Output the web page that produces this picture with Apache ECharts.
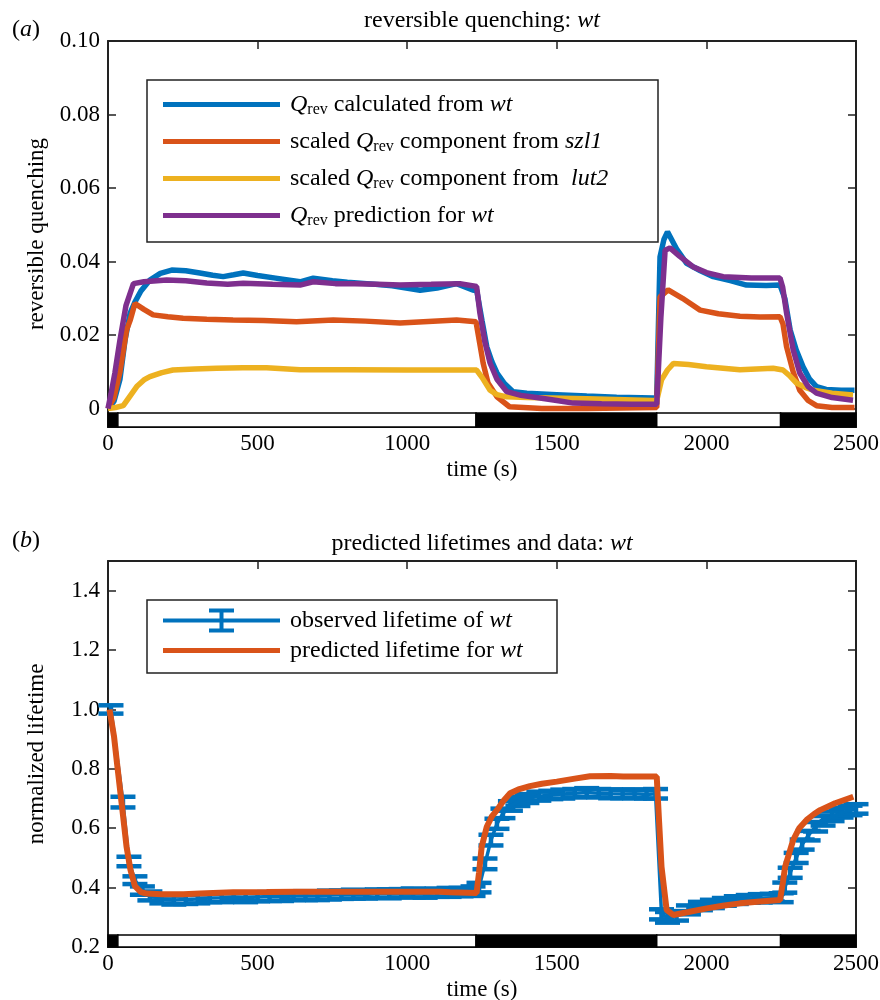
<!DOCTYPE html>
<html>
<head>
<meta charset="utf-8">
<script src="https://cdn.jsdelivr.net/npm/echarts@6/dist/echarts.min.js"></script>
<style>
  html, body { margin: 0; padding: 0; background: #fff; }
  #chart { width: 880px; height: 1000px; }
</style>
</head>
<body>
<div id="chart"></div>
<script>
// ---------- data ----------
// light/dark bars (time in s), 1 = dark
const phaseStart = [0, 33, 1230, 1834, 2248];
const phaseEnd = [33, 1230, 1834, 2248, 2500];
const phaseDark = [1, 0, 1, 0, 1];

// (a) reversible quenching
const qCalcT = [0, 20, 40, 57, 74, 90, 110, 140, 175, 213, 260, 307, 350, 385, 420, 452, 500, 560, 642, 686, 750, 800, 865, 950, 1043, 1100, 1165, 1221,
  1232, 1250, 1266, 1283, 1300, 1325, 1354, 1400, 1500, 1600, 1700, 1822,
  1834, 1845, 1858, 1870, 1900, 1934, 1980, 2023, 2080, 2134, 2200, 2246,
  2262, 2280, 2300, 2323, 2345, 2368, 2400, 2450, 2495];
const qCalcV = [0, 0.002, 0.008, 0.0187, 0.026, 0.029, 0.032, 0.035, 0.0368, 0.0377, 0.0375, 0.0369, 0.0363, 0.0359, 0.0364, 0.0369, 0.0362, 0.0355, 0.0345, 0.0355, 0.0348, 0.0344, 0.034, 0.0334, 0.0322, 0.0328, 0.034, 0.0322,
  0.0323, 0.024, 0.0168, 0.0128, 0.0097, 0.0068, 0.0046, 0.0042, 0.0038, 0.0034, 0.0031, 0.0029,
  0.003, 0.0413, 0.046, 0.0481, 0.0435, 0.0395, 0.0375, 0.0359, 0.0348, 0.0336, 0.0335, 0.0336,
  0.030, 0.0214, 0.016, 0.0114, 0.008, 0.006, 0.0052, 0.005, 0.005];

const szl1T = [0, 20, 40, 62, 74, 90, 120, 151, 200, 251, 330, 418, 520, 630, 753, 860, 976, 1070, 1165, 1230,
  1242, 1254, 1270, 1300, 1342, 1450, 1600, 1834,
  1845, 1872, 1920, 1979, 2040, 2112, 2180, 2246,
  2256, 2268, 2290, 2312, 2340, 2368, 2420, 2495];
const szl1V = [0, 0.003, 0.010, 0.0214, 0.024, 0.0286, 0.027, 0.0255, 0.025, 0.0246, 0.0243, 0.0241, 0.024, 0.0236, 0.0241, 0.0238, 0.0233, 0.0237, 0.0241, 0.0236,
  0.018, 0.0123, 0.007, 0.0032, 0.0005, 0.0, 0.0, 0.0003,
  0.0304, 0.0323, 0.030, 0.0268, 0.0258, 0.0251, 0.0249, 0.025,
  0.023, 0.0168, 0.010, 0.005, 0.0022, 0.0008, 0.0003, 0.0003];

const lut2T = [0, 25, 51, 70, 96, 120, 140, 180, 217, 290, 363, 450, 530, 642, 800, 1000, 1232,
  1250, 1277, 1300, 1333, 1400, 1600, 1822,
  1834, 1850, 1870, 1890, 1940, 2000, 2112, 2223, 2256,
  2280, 2302, 2330, 2357, 2420, 2490];
const lut2V = [0, 0.0003, 0.0008, 0.003, 0.006, 0.0078, 0.0087, 0.0098, 0.0105, 0.0108, 0.011, 0.0111, 0.0111, 0.0106, 0.0106, 0.0105, 0.0105,
  0.0085, 0.005, 0.0038, 0.0032, 0.003, 0.0027, 0.0022,
  0.0022, 0.0078, 0.0105, 0.0123, 0.012, 0.0114, 0.0106, 0.011, 0.0105,
  0.0088, 0.0069, 0.0058, 0.005, 0.0042, 0.0037];

const predT = [0, 10, 23, 40, 60, 85, 120, 196, 260, 330, 400, 452, 550, 642, 686, 760, 825, 900, 976, 1080, 1176, 1232,
  1243, 1260, 1277, 1300, 1333, 1380, 1444, 1500, 1555, 1650, 1750, 1834,
  1848, 1862, 1878, 1910, 1955, 2000, 2056, 2150, 2246,
  2255, 2268, 2290, 2312, 2340, 2368, 2420, 2490];
const predV = [0, 0.004, 0.0097, 0.0187, 0.028, 0.034, 0.0345, 0.035, 0.0348, 0.0342, 0.0338, 0.0341, 0.0338, 0.0336, 0.0345, 0.034, 0.034, 0.0338, 0.0336, 0.0338, 0.034, 0.0332,
  0.026, 0.018, 0.0124, 0.008, 0.0046, 0.0036, 0.0029, 0.0022, 0.0015, 0.0013, 0.0012, 0.0012,
  0.025, 0.0431, 0.0437, 0.0415, 0.0386, 0.037, 0.0359, 0.0355, 0.0355,
  0.033, 0.026, 0.016, 0.0097, 0.006, 0.0042, 0.003, 0.0023];

// (b) lifetimes
const lifePredT = [5, 20, 30, 50, 62, 75, 90, 110, 129, 180, 252, 307, 418, 530, 630, 753, 900, 1000, 1110, 1143, 1232,
  1240, 1249, 1266, 1283, 1300, 1320, 1344, 1375, 1410, 1450, 1500, 1560, 1611, 1680, 1722, 1834,
  1842, 1850, 1867, 1889, 1940, 2001, 2060, 2112, 2180, 2246,
  2256, 2263, 2290, 2310, 2335, 2360, 2380, 2430, 2491];
const lifePredV = [1.0, 0.91, 0.82, 0.645, 0.538, 0.46, 0.405, 0.385, 0.38, 0.378, 0.378, 0.38, 0.384, 0.385, 0.386, 0.386, 0.386, 0.386, 0.386, 0.384, 0.382,
  0.45, 0.538, 0.605, 0.64, 0.661, 0.69, 0.718, 0.732, 0.742, 0.75, 0.757, 0.767, 0.775, 0.776, 0.774, 0.774,
  0.62, 0.47, 0.325, 0.308, 0.318, 0.33, 0.34, 0.347, 0.353, 0.358,
  0.42, 0.47, 0.56, 0.60, 0.628, 0.648, 0.661, 0.684, 0.706];

const obsT = [10, 50, 70, 90, 115, 140, 180, 220, 260, 300, 340, 380, 420, 460, 500, 540, 580, 620, 660, 700, 740, 780, 820, 860, 900, 940, 980, 1020, 1060, 1100, 1140, 1180, 1220,
  1240, 1260, 1280, 1300, 1320, 1345, 1370, 1400, 1440, 1480, 1520, 1560, 1600, 1640, 1680, 1720, 1760, 1800, 1830,
  1850, 1870, 1900, 1940, 1980, 2020, 2060, 2100, 2140, 2180, 2220, 2250,
  2262, 2280, 2300, 2320, 2340, 2365, 2390, 2420, 2450, 2480, 2500];
const obsV = [1.0, 0.688, 0.488, 0.425, 0.39, 0.372, 0.362, 0.358, 0.36, 0.362, 0.365, 0.366, 0.368, 0.366, 0.368, 0.37, 0.369, 0.372, 0.373, 0.372, 0.375, 0.376, 0.378, 0.377, 0.38, 0.379, 0.381, 0.382, 0.38, 0.383, 0.384, 0.385, 0.388,
  0.40, 0.48, 0.56, 0.615, 0.65, 0.675, 0.69, 0.70, 0.708, 0.712, 0.715, 0.718, 0.72, 0.718, 0.716, 0.715, 0.716, 0.714, 0.716,
  0.31, 0.30, 0.305, 0.325, 0.338, 0.345, 0.352, 0.358, 0.362, 0.364, 0.366, 0.366,
  0.40, 0.45, 0.50, 0.545, 0.575, 0.605, 0.625, 0.64, 0.652, 0.66, 0.665];
const obsErr = [0.014, 0.018, 0.016, 0.013, 0.014, 0.015, 0.015, 0.015, 0.015, 0.015, 0.014, 0.015, 0.014, 0.015, 0.014, 0.015, 0.014, 0.014, 0.015, 0.014, 0.015, 0.014, 0.015, 0.014, 0.014, 0.015, 0.014, 0.015, 0.014, 0.014, 0.015, 0.014, 0.016,
  0.016, 0.018, 0.018, 0.017, 0.016, 0.016, 0.015, 0.015, 0.015, 0.014, 0.015, 0.014, 0.015, 0.014, 0.015, 0.014, 0.015, 0.014, 0.016,
  0.017, 0.018, 0.016, 0.015, 0.014, 0.014, 0.013, 0.013, 0.013, 0.014, 0.013, 0.015,
  0.017, 0.017, 0.017, 0.017, 0.016, 0.016, 0.016, 0.016, 0.016, 0.016, 0.016];

const qTicks = [0, 0.02, 0.04, 0.06, 0.08, 0.1];
const lifeTicks = [0.2, 0.4, 0.6, 0.8, 1.0, 1.2, 1.4];

// ---------- styling ----------
const FONT = 'Liberation Serif';
const BLUE = '#0072BD', ORANGE = '#D95319', YELLOW = '#EDB120', PURPLE = '#7E2F8E';
const AX = '#222';
const FS = 23;   // tick labels / axis names
const FL = 24;   // legend and titles

const zip = (xs, ys) => xs.map((x, i) => [x, ys[i]]);
const rich = {
  i: { fontFamily: FONT, fontSize: FL, fontStyle: 'italic', color: '#000', lineHeight: 27 },
  q: { fontFamily: FONT, fontSize: FL, fontStyle: 'italic', color: '#000', lineHeight: 27 },
  s: { fontFamily: FONT, fontSize: 16, color: '#000', lineHeight: 14, verticalAlign: 'bottom' }
};
const textBase = { fontFamily: FONT, fontSize: FS, color: '#000' };
const textBig = { fontFamily: FONT, fontSize: FL, color: '#000' };

const legendText = {
  'Qrev calculated from wt': '{q|Q}{s|rev} calculated from {i|wt}',
  'scaled Qrev component from szl1': 'scaled {q|Q}{s|rev} component from {i|szl1}',
  'scaled Qrev component from lut2': 'scaled {q|Q}{s|rev} component from  {i|lut2}',
  'Qrev prediction for wt': '{q|Q}{s|rev} prediction for {i|wt}',
  'observed lifetime of wt': 'observed lifetime of {i|wt}',
  'predicted lifetime for wt': 'predicted lifetime for {i|wt}'
};

function phaseRenderer(yLow, yHigh) {
  return function (params, api) {
    const p0 = api.coord([api.value(0), yHigh]);
    const p1 = api.coord([api.value(1), yLow]);
    return {
      type: 'rect',
      shape: { x: p0[0], y: p0[1], width: p1[0] - p0[0], height: p1[1] - p0[1] },
      style: { fill: api.value(2) ? '#000' : '#fff', stroke: '#000', lineWidth: 1.5 }
    };
  };
}

function renderErrorBar(params, api) {
  const t = api.value(0), v = api.value(1), e = api.value(2);
  const hi = api.coord([t, v + e]);
  const lo = api.coord([t, v - e]);
  const half = 12.5;
  const style = { stroke: BLUE, lineWidth: 4.5, fill: null };
  return {
    type: 'group',
    children: [
      { type: 'line', shape: { x1: hi[0], y1: hi[1], x2: lo[0], y2: lo[1] }, style },
      { type: 'line', shape: { x1: hi[0] - half, y1: hi[1], x2: hi[0] + half, y2: hi[1] }, style },
      { type: 'line', shape: { x1: lo[0] - half, y1: lo[1], x2: lo[0] + half, y2: lo[1] }, style }
    ]
  };
}

const phaseData = phaseStart.map((s, i) => [s, phaseEnd[i], phaseDark[i]]);
const obsData = obsT.map((t, i) => [t, obsV[i], obsErr[i]]);

function xAxes(grid) {
  const common = {
    gridIndex: grid, type: 'value', min: 0, max: 2500, interval: 500,
    axisLine: { onZero: false, lineStyle: { color: AX, width: 2 } },
    axisTick: { inside: true, length: 8, lineStyle: { color: AX, width: 1.5 } },
    splitLine: { show: false }
  };
  return [
    Object.assign({}, common, {
      position: 'bottom',
      axisLabel: Object.assign({ margin: 5, formatter: v => String(v) }, textBase),
      name: 'time (s)', nameLocation: 'middle', nameGap: 31, nameTextStyle: textBase
    }),
    Object.assign({}, common, { position: 'top', axisLabel: { show: false } })
  ];
}

function yAxes(grid, min, max, ticks, fmt, name, gap) {
  const common = {
    gridIndex: grid, type: 'value', min: min, max: max,
    axisLine: { onZero: false, lineStyle: { color: AX, width: 2 } },
    axisTick: { inside: true, length: 8, customValues: ticks, lineStyle: { color: AX, width: 1.5 } },
    splitLine: { show: false }
  };
  return [
    Object.assign({}, common, {
      position: 'left',
      axisLabel: Object.assign({ margin: 8, customValues: ticks, formatter: fmt }, textBase),
      name: name, nameLocation: 'middle', nameRotate: 90, nameGap: gap, nameTextStyle: textBase
    }),
    Object.assign({}, common, { position: 'right', axisLabel: { show: false } })
  ];
}

const lineSeries = (name, xi, yi, data, color, width) => ({
  name, type: 'line', xAxisIndex: xi, yAxisIndex: yi, data, symbol: 'none',
  lineStyle: { color, width }, itemStyle: { color }, animation: false
});

const ICON_LINE = 'path://M0,0H117V5H0Z';
const ICON_ERR = 'path://M0,10H117V14H0Z M56.5,0H60.5V24H56.5Z M46,0H71V4H46Z M46,20H71V24H46Z';

const chart = echarts.init(document.getElementById('chart'));
chart.setOption({
  backgroundColor: '#fff',
  animation: false,
  title: [
    { text: 'reversible quenching: {i|wt}', left: 482, top: 7, textAlign: 'center', padding: 0,
      textStyle: Object.assign({ fontWeight: 'normal', rich }, textBig) },
    { text: 'predicted lifetimes and data: {i|wt}', left: 482, top: 530, textAlign: 'center', padding: 0,
      textStyle: Object.assign({ fontWeight: 'normal', rich }, textBig) },
    { text: '({i|a})', left: 12, top: 16, padding: 0, textStyle: Object.assign({ fontWeight: 'normal', rich }, textBig) },
    { text: '({i|b})', left: 12, top: 527, padding: 0, textStyle: Object.assign({ fontWeight: 'normal', rich }, textBig) }
  ],
  grid: [
    { left: 108, right: 24, top: 41, height: 386, outerBoundsMode: 'none' },
    { left: 108, right: 24, top: 561, height: 386, outerBoundsMode: 'none' }
  ],
  xAxis: xAxes(0).concat(xAxes(1)),
  yAxis: yAxes(0, -0.005, 0.1, qTicks, v => (v === 0 ? '0' : v.toFixed(2)), 'reversible quenching', 56)
    .concat(yAxes(1, 0.2, 1.5, lifeTicks, v => v.toFixed(1), 'normalized lifetime', 60)),
  legend: [
    {
      orient: 'vertical', left: 163, top: 91, padding: 0, itemGap: 10,
      itemWidth: 117, itemHeight: 5, selectedMode: false,
      data: [
        { name: 'Qrev calculated from wt', icon: ICON_LINE },
        { name: 'scaled Qrev component from szl1', icon: ICON_LINE },
        { name: 'scaled Qrev component from lut2', icon: ICON_LINE },
        { name: 'Qrev prediction for wt', icon: ICON_LINE }
      ],
      formatter: n => legendText[n],
      textStyle: Object.assign({ rich, lineHeight: 27, padding: [0, 0, 0, 5] }, textBig)
    },
    {
      orient: 'vertical', left: 163, top: 607, padding: 0, itemGap: 3,
      itemWidth: 117, itemHeight: 24, selectedMode: false,
      data: [
        { name: 'observed lifetime of wt', icon: ICON_ERR },
        { name: 'predicted lifetime for wt', icon: ICON_LINE }
      ],
      formatter: n => legendText[n],
      textStyle: Object.assign({ rich, lineHeight: 27, padding: [0, 0, 0, 5] }, textBig)
    }
  ],
  graphic: [
    { type: 'rect', shape: { x: 147, y: 80, width: 511, height: 162 }, style: { fill: null, stroke: AX, lineWidth: 1.5 }, z: 100 },
    { type: 'rect', shape: { x: 147, y: 600, width: 410, height: 73 }, style: { fill: null, stroke: AX, lineWidth: 1.5 }, z: 100 }
  ],
  series: [
    lineSeries('Qrev calculated from wt', 0, 0, zip(qCalcT, qCalcV), BLUE, 5.5),
    lineSeries('scaled Qrev component from szl1', 0, 0, zip(szl1T, szl1V), ORANGE, 5.5),
    lineSeries('scaled Qrev component from lut2', 0, 0, zip(lut2T, lut2V), YELLOW, 5.5),
    lineSeries('Qrev prediction for wt', 0, 0, zip(predT, predV), PURPLE, 5.5),
    { type: 'custom', name: 'phasesA', xAxisIndex: 0, yAxisIndex: 0, data: phaseData,
      renderItem: phaseRenderer(-0.005, -0.0012), silent: true, z: 3 },
    { type: 'custom', name: 'observed lifetime of wt', xAxisIndex: 2, yAxisIndex: 2, data: obsData,
      renderItem: renderErrorBar, clip: false, itemStyle: { color: BLUE }, z: 2 },
    lineSeries('observed lifetime of wt', 2, 2, zip(obsT, obsV), BLUE, 3.5),
    lineSeries('predicted lifetime for wt', 2, 2, zip(lifePredT, lifePredV), ORANGE, 6),
    { type: 'custom', name: 'phasesB', xAxisIndex: 2, yAxisIndex: 2, data: phaseData,
      renderItem: phaseRenderer(0.2, 0.24), silent: true, z: 3 }
  ]
});
</script>
</body>
</html>
